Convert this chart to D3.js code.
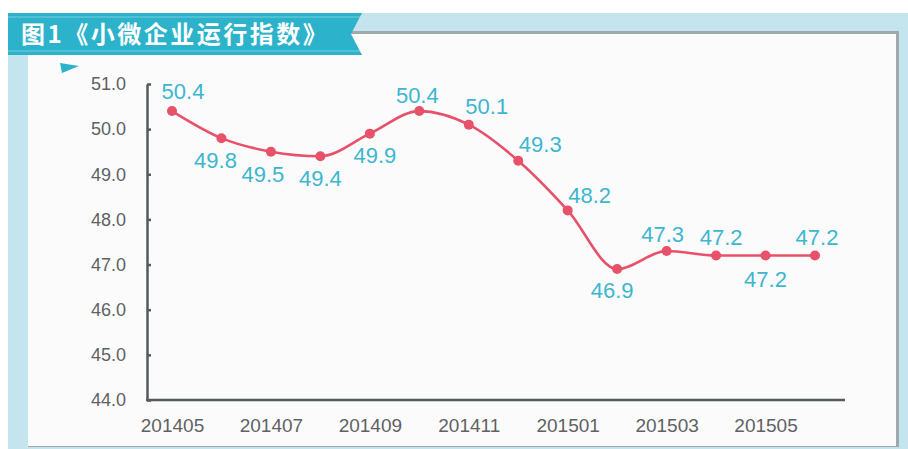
<!DOCTYPE html>
<html>
<head>
<meta charset="utf-8">
<script src="https://cdn.jsdelivr.net/npm/d3@7"></script>
<style>
  body { margin: 0; background: #ffffff; }
  svg { display: block; font-family: "Liberation Sans", Arial, sans-serif; }
  .ylab text { fill: #5e6264; font-size: 18px; }
  .xlab text { fill: #5e6264; font-size: 19px; }
  .vlabel { fill: #3db6d0; font-size: 22px; }
</style>
</head>
<body>
<svg width="908" height="449"></svg>
<script>
// **** Data ****
var months = ["201405", "201406", "201407", "201408", "201409", "201410", "201411",
              "201412", "201501", "201502", "201503", "201504", "201505", "201506"];
var values = [50.4, 49.8, 49.5, 49.4, 49.9, 50.4, 50.1, 49.3, 48.2, 46.9, 47.3, 47.2, 47.2, 47.2];
var yTicks = [44, 45, 46, 47, 48, 49, 50, 51];
var xTickLabels = ["201405", "201407", "201409", "201411", "201501", "201503", "201505"];
var title = "图1《小微企业运行指数》";

var svg = d3.select("svg");

// **** Frame and banner ****
svg.append("rect").attr("x", 8).attr("y", 13).attr("width", 900).attr("height", 436)
    .attr("fill", "#c4e5ed");
// shadow of the inner panel
svg.append("rect").attr("x", 28).attr("y", 31).attr("width", 871).attr("height", 416)
    .attr("fill", "#9fa9ab");
svg.append("rect").attr("x", 28).attr("y", 34).attr("width", 868).attr("height", 412)
    .attr("fill", "#fbfbfb");

svg.append("polygon")
    .attr("points", "8,13 362,13 351,34 362,55 8,55")
    .attr("fill", "#2cb3cb");
svg.append("line").attr("x1", 8).attr("x2", 360).attr("y1", 17).attr("y2", 17)
    .attr("stroke", "#ffffff").attr("stroke-opacity", 0.35).attr("stroke-width", 1);
svg.append("line").attr("x1", 8).attr("x2", 360).attr("y1", 51).attr("y2", 51)
    .attr("stroke", "#ffffff").attr("stroke-opacity", 0.35).attr("stroke-width", 1);
svg.append("text")
    .attr("x", 21).attr("y", 43)
    .attr("fill", "#ffffff")
    .style("font-family", '"Noto Sans CJK SC", sans-serif')
    .style("font-weight", "bold")
    .style("font-size", "24px")
    .style("letter-spacing", "2.5px")
    .text(title);
// small pennant under the banner
svg.append("polygon")
    .attr("points", "60,63 79,66 62,73")
    .attr("fill", "#2cb3cb");

// **** Scales ****
var xScale = d3.scalePoint().domain(months).range([172, 815]);
var yScale = d3.scaleLinear().domain([44, 51]).range([400, 84]);

// **** Axes ****
var yAxis = svg.append("g").attr("class", "ylab")
    .attr("transform", "translate(147,0)")
    .call(d3.axisLeft(yScale).tickValues(yTicks).tickSizeInner(-4).tickSizeOuter(0)
        .tickPadding(21).tickFormat(d3.format(".1f")));
yAxis.selectAll("path, line").attr("stroke", "#555a5c").attr("stroke-width", 2.5);

var xAxis = svg.append("g").attr("class", "xlab")
    .attr("transform", "translate(0,400)")
    .call(d3.axisBottom(xScale).tickValues(xTickLabels).tickSize(0).tickPadding(19));
xAxis.select(".domain").remove();
svg.append("line")
    .attr("x1", 146).attr("x2", 845).attr("y1", 400).attr("y2", 400)
    .attr("stroke", "#555a5c").attr("stroke-width", 2.5);

// **** Line and points ****
var line = d3.line()
    .x(function(d, i) { return xScale(months[i]); })
    .y(function(d) { return yScale(d); })
    .curve(d3.curveMonotoneX);

svg.append("path")
    .datum(values)
    .attr("d", line)
    .attr("fill", "none")
    .attr("stroke", "#e8516a")
    .attr("stroke-width", 2.6);

svg.selectAll("circle.pt")
    .data(values)
    .enter()
    .append("circle")
    .attr("class", "pt")
    .attr("cx", function(d, i) { return xScale(months[i]); })
    .attr("cy", function(d) { return yScale(d); })
    .attr("r", 5)
    .attr("fill", "#e8516a");

// label placement relative to each point (dx, dy)
var labelOffsets = [[11, -20], [-6, 22], [-8, 23], [0, 22], [5, 22], [-2, -16], [18, -18],
                    [22, -16], [22, -15], [-5, 21], [-4, -17], [5, -18], [0, 24], [2, -18]];

svg.selectAll("text.vlabel")
    .data(values)
    .enter()
    .append("text")
    .attr("class", "vlabel")
    .attr("x", function(d, i) { return xScale(months[i]) + labelOffsets[i][0]; })
    .attr("y", function(d, i) { return yScale(d) + labelOffsets[i][1]; })
    .attr("text-anchor", "middle")
    .attr("dominant-baseline", "central")
    .text(function(d) { return d3.format(".1f")(d); });
</script>
</body>
</html>
